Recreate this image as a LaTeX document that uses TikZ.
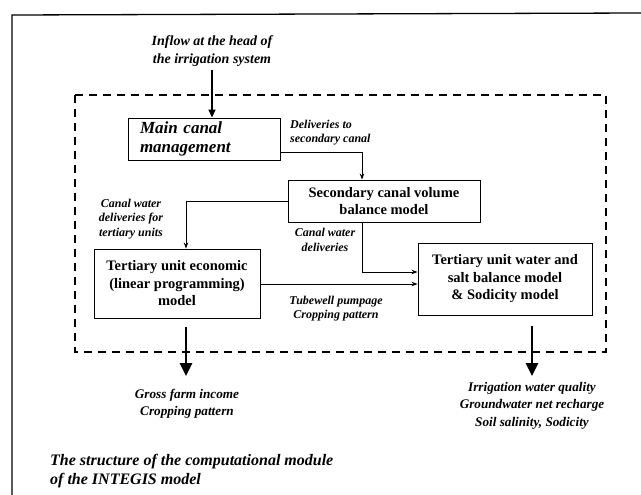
\documentclass[tikz,border=0pt]{standalone}
\usepackage{fontspec}
\setmainfont{Liberation Serif}
\usetikzlibrary{arrows.meta}
\begin{document}
\begin{tikzpicture}[x=1pt,y=-1pt,
  box/.style={draw,line width=0.9pt,inner sep=1pt,font=\bfseries\fontsize{14.5}{17.5}\selectfont,align=center},
  lbl/.style={font=\bfseries\itshape\fontsize{12}{14.5}\selectfont,align=center,inner sep=1pt},
  outlbl/.style={font=\bfseries\itshape\fontsize{13.2}{17.5}\selectfont,align=center,inner sep=1pt},
  flow/.style={line width=0.9pt,-{Stealth[length=6pt,width=4.5pt]}},
  bigflow/.style={line width=2.6pt,-{Triangle[length=13pt,width=12pt]}}]
\useasboundingbox (0,0) rectangle (641,495);
% outer frame
\draw[line width=1.3pt] (12,495) -- (12,15) -- (641,13);
% model boundary
\draw[line width=2pt,dash pattern=on 8pt off 6pt] (75,95) rectangle (606,352);
% inflow
\node[lbl,font=\bfseries\itshape\fontsize{14}{18}\selectfont] (inflow) at (212,51) {Inflow at the head of\\the irrigation system};
% boxes
\node[box,minimum width=152pt,minimum height=42pt,align=left,text width=128pt,
      font=\bfseries\itshape\fontsize{17}{19}\selectfont] (main) at (204,139) {Main canal\\management};
\node[box,minimum width=192pt,minimum height=42pt] (sec) at (384,201) {Secondary canal volume\\balance model};
\node[box,minimum width=166pt,minimum height=69pt] (econ) at (177,283.5) {Tertiary unit economic\\(linear programming)\\model};
\node[box,minimum width=174pt,minimum height=72pt] (water) at (505,279) {Tertiary unit water and\\salt balance model\\\& Sodicity model};
% connector labels
\node[lbl,anchor=west,align=left] (ldel) at (289,132.5) {Deliveries to\\secondary canal};
\node[lbl] (lter) at (131,219) {Canal water\\deliveries for\\tertiary units};
\node[lbl] (lcw) at (325,240) {Canal water\\deliveries};
\node[lbl] (ltub) at (336,308.5) {Tubewell pumpage\\Cropping pattern};
% connectors
\coordinate (mo) at (main.east |- 0,152);
\draw[flow] (mo) -| (sec.north -| 362,0);
\draw[flow] (sec.west) -| (econ.north -| 186,0);
\coordinate (sb) at (sec.south -| 362,0);
\draw[flow] (sb) |- (water.west |- 0,272);
\draw[flow] (econ.east |- 0,284) -- (water.west |- 0,284);
\coordinate (itop) at (212,70);
\draw[line width=1.6pt,-{Triangle[length=8pt,width=7pt]}] (itop) -- (main.north -| itop);
% outputs
\node[outlbl] (gross) at (187,404) {Gross farm income\\Cropping pattern};
\node[outlbl] (irr) at (532,405.5) {Irrigation water quality\\Groundwater net recharge\\Soil salinity, Sodicity};
\coordinate (ga) at (186,327);
\coordinate (ia) at (532,326);
\draw[bigflow] (ga) -- (ga |- 0,376);
\draw[bigflow] (ia) -- (ia |- 0,376);
% caption
\node[anchor=west,font=\bfseries\itshape\fontsize{16}{19}\selectfont,align=left,inner sep=0pt] (cap) at (50,471.5) {The structure of the computational module\\of the INTEGIS model};
\end{tikzpicture}
\end{document}
